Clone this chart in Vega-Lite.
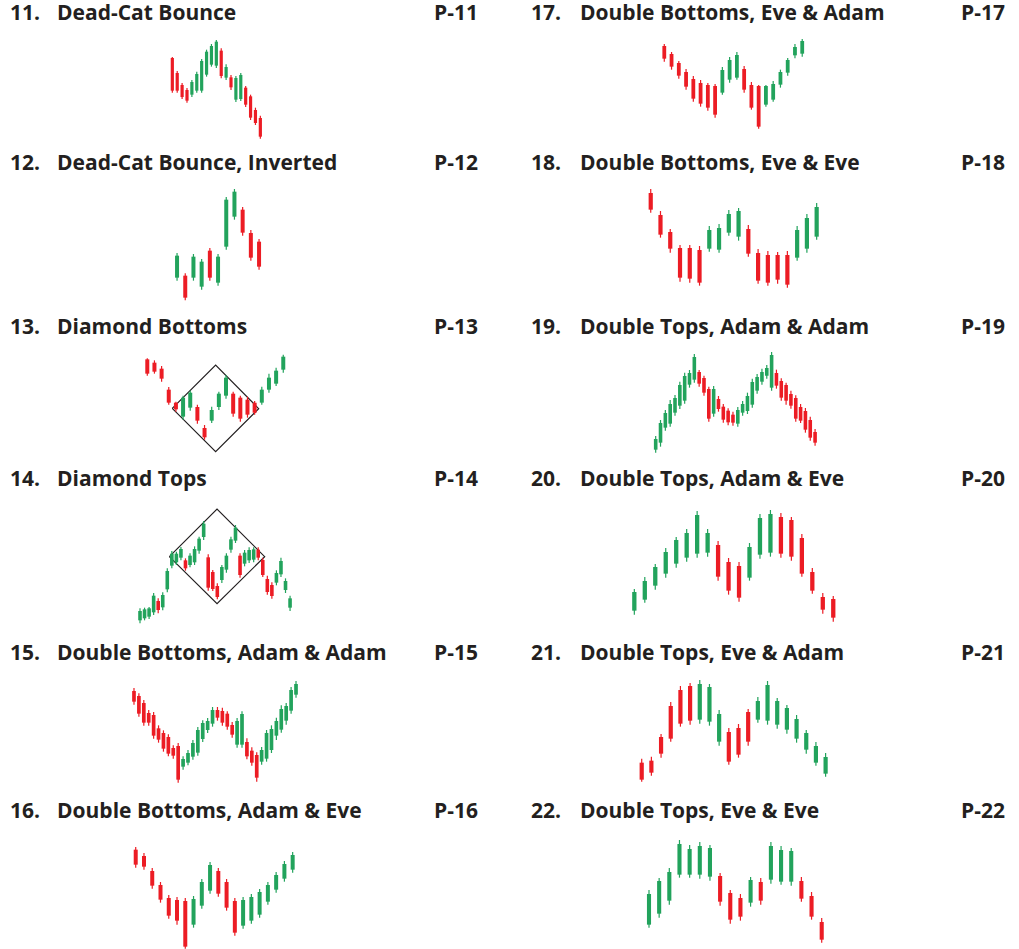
{
"$schema": "https://vega.github.io/schema/vega-lite/v6.json",
"padding": 0,
"background": "white",
"spacing": 0,
"config": {"view": {"stroke": null}, "scale": {"continuousPadding": 0}, "text": {"font": "Open Sans", "fontSize": 21, "fontWeight": 700, "color": "#231f20"}},
"datasets": {
"p11": [{"i":0,"open":276,"high":279,"low":172,"close":178},{"i":1,"open":231,"high":237,"low":172,"close":178},{"i":2,"open":195,"high":201,"low":153,"close":159},{"i":3,"open":180,"high":186,"low":142,"close":148},{"i":4,"open":166,"high":210,"low":159,"close":204},{"i":5,"open":178,"high":235,"low":172,"close":228},{"i":6,"open":178,"high":273,"low":172,"close":267},{"i":7,"open":226,"high":301,"low":220,"close":295},{"i":8,"open":256,"high":318,"low":250,"close":312},{"i":9,"open":253,"high":330,"low":246,"close":325},{"i":10,"open":298,"high":305,"low":215,"close":222},{"i":11,"open":217,"high":257,"low":210,"close":249},{"i":12,"open":218,"high":225,"low":180,"close":188},{"i":13,"open":151,"high":222,"low":144,"close":216},{"i":14,"open":153,"high":231,"low":147,"close":225},{"i":15,"open":187,"high":192,"low":129,"close":136},{"i":16,"open":161,"high":166,"low":90,"close":97},{"i":17,"open":120,"high":127,"low":75,"close":81},{"i":18,"open":96,"high":103,"low":34,"close":40}],
"p12": [{"i":0,"open":109,"high":183,"low":100,"close":175},{"i":1,"open":115,"high":122,"low":41,"close":49},{"i":2,"open":109,"high":180,"low":100,"close":172},{"i":3,"open":82,"high":165,"low":73,"close":157},{"i":4,"open":190,"high":198,"low":100,"close":109},{"i":5,"open":94,"high":180,"low":85,"close":172},{"i":6,"open":202,"high":351,"low":193,"close":343},{"i":7,"open":292,"high":375,"low":283,"close":367},{"i":8,"open":313,"high":321,"low":235,"close":244},{"i":9,"open":243,"high":252,"low":160,"close":169},{"i":10,"open":217,"high":225,"low":133,"close":142}],
"p13": [{"i":0,"open":320,"high":323,"low":271,"close":277},{"i":1,"open":310,"high":317,"low":277,"close":283},{"i":2,"open":292,"high":300,"low":253,"close":262},{"i":3,"open":229,"high":237,"low":184,"close":190},{"i":4,"open":190,"high":193,"low":163,"close":170},{"i":5,"open":148,"high":211,"low":139,"close":205},{"i":6,"open":175,"high":226,"low":166,"close":220},{"i":7,"open":177,"high":184,"low":127,"close":136},{"i":8,"open":114,"high":123,"low":79,"close":86},{"i":9,"open":136,"high":178,"low":129,"close":168},{"i":10,"open":177,"high":223,"low":168,"close":217},{"i":11,"open":211,"high":273,"low":202,"close":265},{"i":12,"open":217,"high":223,"low":148,"close":157},{"i":13,"open":205,"high":211,"low":133,"close":142},{"i":14,"open":199,"high":208,"low":145,"close":154},{"i":15,"open":190,"high":195,"low":154,"close":160},{"i":16,"open":190,"high":238,"low":184,"close":229},{"i":17,"open":229,"high":277,"low":220,"close":265},{"i":18,"open":247,"high":295,"low":240,"close":286},{"i":19,"open":289,"high":334,"low":280,"close":328}],
"p14": [{"i":0,"open":59,"high":95,"low":50,"close":87},{"i":1,"open":65,"high":97,"low":59,"close":92},{"i":2,"open":70,"high":99,"low":63,"close":95},{"i":3,"open":83,"high":141,"low":75,"close":133},{"i":4,"open":117,"high":125,"low":80,"close":90},{"i":5,"open":98,"high":143,"low":89,"close":135},{"i":6,"open":152,"high":215,"low":143,"close":207},{"i":7,"open":223,"high":267,"low":215,"close":259},{"i":8,"open":233,"high":265,"low":225,"close":259},{"i":9,"open":247,"high":279,"low":239,"close":273},{"i":10,"open":239,"high":245,"low":208,"close":215},{"i":11,"open":225,"high":260,"low":218,"close":253},{"i":12,"open":233,"high":281,"low":225,"close":273},{"i":13,"open":268,"high":310,"low":259,"close":304},{"i":14,"open":309,"high":357,"low":300,"close":349},{"i":15,"open":248,"high":257,"low":148,"close":157},{"i":16,"open":204,"high":210,"low":147,"close":153},{"i":17,"open":162,"high":170,"low":122,"close":129},{"i":18,"open":180,"high":225,"low":171,"close":219},{"i":19,"open":211,"high":260,"low":202,"close":253},{"i":20,"open":271,"high":310,"low":262,"close":302},{"i":21,"open":298,"high":345,"low":291,"close":337},{"i":22,"open":253,"high":260,"low":187,"close":195},{"i":23,"open":229,"high":270,"low":221,"close":262},{"i":24,"open":239,"high":278,"low":231,"close":270},{"i":25,"open":241,"high":278,"low":233,"close":272},{"i":26,"open":271,"high":278,"low":239,"close":247},{"i":27,"open":240,"high":247,"low":189,"close":195},{"i":28,"open":183,"high":193,"low":136,"close":144},{"i":29,"open":165,"high":173,"low":124,"close":132},{"i":30,"open":172,"high":209,"low":164,"close":201},{"i":31,"open":197,"high":247,"low":189,"close":237},{"i":32,"open":150,"high":185,"low":141,"close":177},{"i":33,"open":97,"high":133,"low":87,"close":125}],
"p15": [{"i":0,"open":321,"high":330,"low":280,"close":289},{"i":1,"open":306,"high":314,"low":244,"close":253},{"i":2,"open":285,"high":294,"low":217,"close":226},{"i":3,"open":255,"high":264,"low":217,"close":226},{"i":4,"open":249,"high":258,"low":178,"close":187},{"i":5,"open":209,"high":218,"low":166,"close":175},{"i":6,"open":195,"high":203,"low":139,"close":148},{"i":7,"open":183,"high":191,"low":125,"close":133},{"i":8,"open":150,"high":158,"low":118,"close":127},{"i":9,"open":156,"high":165,"low":46,"close":55},{"i":10,"open":94,"high":125,"low":85,"close":117},{"i":11,"open":106,"high":144,"low":98,"close":135},{"i":12,"open":124,"high":174,"low":115,"close":165},{"i":13,"open":136,"high":213,"low":127,"close":204},{"i":14,"open":177,"high":233,"low":168,"close":225},{"i":15,"open":204,"high":240,"low":195,"close":231},{"i":16,"open":223,"high":273,"low":214,"close":264},{"i":17,"open":264,"high":273,"low":232,"close":241},{"i":18,"open":261,"high":271,"low":217,"close":226},{"i":19,"open":253,"high":260,"low":205,"close":214},{"i":20,"open":219,"high":228,"low":181,"close":190},{"i":21,"open":160,"high":240,"low":151,"close":231},{"i":22,"open":160,"high":260,"low":151,"close":252},{"i":23,"open":168,"high":179,"low":116,"close":125},{"i":24,"open":142,"high":152,"low":97,"close":106},{"i":25,"open":129,"high":137,"low":49,"close":61},{"i":26,"open":109,"high":153,"low":100,"close":144},{"i":27,"open":118,"high":204,"low":109,"close":195},{"i":28,"open":144,"high":218,"low":135,"close":207},{"i":29,"open":187,"high":241,"low":174,"close":231},{"i":30,"open":205,"high":278,"low":196,"close":267},{"i":31,"open":232,"high":285,"low":220,"close":276},{"i":32,"open":262,"high":333,"low":253,"close":324},{"i":33,"open":310,"high":351,"low":301,"close":342}],
"p16": [{"i":0,"open":298,"high":306,"low":244,"close":253},{"i":1,"open":279,"high":288,"low":238,"close":247},{"i":2,"open":234,"high":243,"low":181,"close":190},{"i":3,"open":192,"high":201,"low":139,"close":148},{"i":4,"open":153,"high":162,"low":91,"close":100},{"i":5,"open":147,"high":156,"low":73,"close":85},{"i":6,"open":144,"high":153,"low":1,"close":7},{"i":7,"open":73,"high":159,"low":64,"close":150},{"i":8,"open":130,"high":210,"low":121,"close":201},{"i":9,"open":175,"high":261,"low":166,"close":252},{"i":10,"open":234,"high":243,"low":157,"close":166},{"i":11,"open":201,"high":210,"low":115,"close":124},{"i":12,"open":144,"high":153,"low":40,"close":49},{"i":13,"open":70,"high":156,"low":61,"close":147},{"i":14,"open":85,"high":165,"low":76,"close":156},{"i":15,"open":103,"high":180,"low":94,"close":171},{"i":16,"open":142,"high":201,"low":133,"close":192},{"i":17,"open":178,"high":231,"low":169,"close":222},{"i":18,"open":211,"high":264,"low":202,"close":255},{"i":19,"open":238,"high":291,"low":229,"close":282}],
"p17": [{"i":0,"open":312,"high":318,"low":265,"close":274},{"i":1,"open":288,"high":294,"low":241,"close":250},{"i":2,"open":261,"high":267,"low":214,"close":223},{"i":3,"open":234,"high":243,"low":181,"close":190},{"i":4,"open":213,"high":222,"low":145,"close":154},{"i":5,"open":201,"high":210,"low":130,"close":139},{"i":6,"open":195,"high":201,"low":118,"close":127},{"i":7,"open":192,"high":198,"low":97,"close":106},{"i":8,"open":172,"high":249,"low":166,"close":240},{"i":9,"open":211,"high":279,"low":202,"close":270},{"i":10,"open":217,"high":294,"low":211,"close":285},{"i":11,"open":243,"high":252,"low":172,"close":181},{"i":12,"open":195,"high":204,"low":121,"close":127},{"i":13,"open":192,"high":195,"low":64,"close":70},{"i":14,"open":136,"high":195,"low":130,"close":192},{"i":15,"open":151,"high":207,"low":145,"close":198},{"i":16,"open":196,"high":241,"low":187,"close":234},{"i":17,"open":232,"high":276,"low":223,"close":270},{"i":18,"open":284,"high":318,"low":275,"close":309},{"i":19,"open":289,"high":333,"low":280,"close":327}],
"p18": [{"i":0,"open":363,"high":375,"low":304,"close":313},{"i":1,"open":297,"high":309,"low":229,"close":238},{"i":2,"open":246,"high":255,"low":184,"close":196},{"i":3,"open":198,"high":207,"low":97,"close":109},{"i":4,"open":198,"high":207,"low":94,"close":106},{"i":5,"open":192,"high":204,"low":85,"close":94},{"i":6,"open":196,"high":264,"low":187,"close":252},{"i":7,"open":193,"high":270,"low":184,"close":258},{"i":8,"open":244,"high":312,"low":235,"close":300},{"i":9,"open":232,"high":318,"low":220,"close":309},{"i":10,"open":255,"high":267,"low":172,"close":181},{"i":11,"open":183,"high":195,"low":91,"close":100},{"i":12,"open":177,"high":189,"low":85,"close":94},{"i":13,"open":177,"high":186,"low":91,"close":103},{"i":14,"open":177,"high":189,"low":79,"close":88},{"i":15,"open":169,"high":264,"low":160,"close":252},{"i":16,"open":196,"high":300,"low":184,"close":288},{"i":17,"open":232,"high":333,"low":223,"close":321}],
"p19": [{"i":0,"open":49,"high":90,"low":40,"close":81},{"i":1,"open":70,"high":138,"low":58,"close":129},{"i":2,"open":115,"high":168,"low":106,"close":159},{"i":3,"open":127,"high":198,"low":118,"close":186},{"i":4,"open":160,"high":213,"low":151,"close":204},{"i":5,"open":181,"high":253,"low":171,"close":243},{"i":6,"open":196,"high":280,"low":187,"close":270},{"i":7,"open":244,"high":288,"low":235,"close":279},{"i":8,"open":259,"high":336,"low":250,"close":327},{"i":9,"open":282,"high":288,"low":238,"close":247},{"i":10,"open":264,"high":271,"low":211,"close":220},{"i":11,"open":231,"high":238,"low":133,"close":142},{"i":12,"open":157,"high":240,"low":148,"close":231},{"i":13,"open":201,"high":210,"low":163,"close":171},{"i":14,"open":178,"high":186,"low":130,"close":139},{"i":15,"open":166,"high":173,"low":122,"close":131},{"i":16,"open":154,"high":163,"low":121,"close":130},{"i":17,"open":127,"high":177,"low":118,"close":168},{"i":18,"open":160,"high":195,"low":151,"close":186},{"i":19,"open":165,"high":220,"low":156,"close":210},{"i":20,"open":184,"high":262,"low":175,"close":252},{"i":21,"open":226,"high":276,"low":217,"close":267},{"i":22,"open":253,"high":292,"low":244,"close":282},{"i":23,"open":271,"high":303,"low":262,"close":294},{"i":24,"open":235,"high":342,"low":226,"close":333},{"i":25,"open":279,"high":289,"low":232,"close":241},{"i":26,"open":255,"high":263,"low":196,"close":205},{"i":27,"open":243,"high":250,"low":184,"close":196},{"i":28,"open":216,"high":226,"low":172,"close":181},{"i":29,"open":204,"high":212,"low":133,"close":142},{"i":30,"open":177,"high":186,"low":129,"close":136},{"i":31,"open":165,"high":174,"low":100,"close":109},{"i":32,"open":138,"high":148,"low":76,"close":85},{"i":33,"open":102,"high":111,"low":61,"close":70}],
"p20": [{"i":0,"open":88,"high":153,"low":76,"close":144},{"i":1,"open":121,"high":189,"low":112,"close":177},{"i":2,"open":163,"high":228,"low":151,"close":219},{"i":3,"open":199,"high":276,"low":187,"close":264},{"i":4,"open":229,"high":309,"low":217,"close":300},{"i":5,"open":247,"high":333,"low":235,"close":321},{"i":6,"open":259,"high":387,"low":247,"close":375},{"i":7,"open":262,"high":333,"low":250,"close":321},{"i":8,"open":285,"high":297,"low":178,"close":190},{"i":9,"open":234,"high":246,"low":136,"close":148},{"i":10,"open":222,"high":234,"low":115,"close":127},{"i":11,"open":187,"high":291,"low":178,"close":279},{"i":12,"open":256,"high":378,"low":244,"close":366},{"i":13,"open":262,"high":390,"low":250,"close":378},{"i":14,"open":369,"high":381,"low":247,"close":259},{"i":15,"open":360,"high":369,"low":238,"close":250},{"i":16,"open":306,"high":318,"low":190,"close":199},{"i":17,"open":204,"high":216,"low":139,"close":148},{"i":18,"open":129,"high":141,"low":79,"close":91},{"i":19,"open":123,"high":132,"low":55,"close":67}],
"p21": [{"i":0,"open":106,"high":118,"low":49,"close":55},{"i":1,"open":112,"high":124,"low":67,"close":76},{"i":2,"open":183,"high":192,"low":121,"close":133},{"i":3,"open":276,"high":288,"low":169,"close":178},{"i":4,"open":324,"high":336,"low":214,"close":223},{"i":5,"open":336,"high":345,"low":220,"close":232},{"i":6,"open":235,"high":354,"low":223,"close":342},{"i":7,"open":229,"high":342,"low":217,"close":333},{"i":8,"open":169,"high":264,"low":157,"close":252},{"i":9,"open":198,"high":210,"low":100,"close":109},{"i":10,"open":210,"high":222,"low":121,"close":130},{"i":11,"open":258,"high":267,"low":157,"close":169},{"i":12,"open":235,"high":303,"low":226,"close":291},{"i":13,"open":232,"high":351,"low":220,"close":339},{"i":14,"open":220,"high":300,"low":208,"close":291},{"i":15,"open":205,"high":279,"low":193,"close":270},{"i":16,"open":178,"high":249,"low":166,"close":237},{"i":17,"open":145,"high":204,"low":133,"close":195},{"i":18,"open":106,"high":168,"low":97,"close":156},{"i":19,"open":73,"high":135,"low":64,"close":123}],
"p22": [{"i":0,"open":73,"high":177,"low":64,"close":165},{"i":1,"open":106,"high":213,"low":94,"close":204},{"i":2,"open":145,"high":243,"low":133,"close":231},{"i":3,"open":223,"high":327,"low":214,"close":315},{"i":4,"open":223,"high":312,"low":214,"close":300},{"i":5,"open":223,"high":321,"low":211,"close":309},{"i":6,"open":217,"high":312,"low":205,"close":303},{"i":7,"open":219,"high":228,"low":130,"close":142},{"i":8,"open":168,"high":177,"low":76,"close":88},{"i":9,"open":153,"high":165,"low":85,"close":97},{"i":10,"open":139,"high":216,"low":127,"close":207},{"i":11,"open":201,"high":213,"low":133,"close":145},{"i":12,"open":208,"high":321,"low":196,"close":309},{"i":13,"open":202,"high":309,"low":193,"close":297},{"i":14,"open":202,"high":303,"low":190,"close":294},{"i":15,"open":204,"high":216,"low":142,"close":151},{"i":16,"open":159,"high":171,"low":88,"close":97},{"i":17,"open":81,"high":93,"low":19,"close":28}]
},
"vconcat": [
{"hconcat": [
{"width": 509, "height": 150, "data": {"name": "p11"}, "layer": [
  {"mark": {"type": "rule", "strokeWidth": 1.2}, "encoding": {"x": {"field": "i", "type": "quantitative", "scale": {"domain": [-35.24, 68.85], "nice": false, "zero": false, "padding": 0}, "axis": null}, "y": {"field": "low", "type": "quantitative", "scale": {"domain": [0, 450], "nice": false, "zero": false}, "axis": null}, "y2": {"field": "high"}, "color": {"condition": {"test": "datum.close > datum.open", "value": "#22a35c"}, "value": "#ec1c24"}}},
  {"mark": {"type": "bar", "size": 3.2}, "encoding": {"x": {"field": "i", "type": "quantitative"}, "y": {"field": "open", "type": "quantitative"}, "y2": {"field": "close"}, "color": {"condition": {"test": "datum.close > datum.open", "value": "#22a35c"}, "value": "#ec1c24"}}},
  {"data": {"values": [{"num": "11.", "name": "Dead-Cat Bounce", "page": "P-11"}]}, "mark": {"type": "text", "align": "left", "baseline": "middle"}, "encoding": {"x": {"datum": -33.19}, "y": {"datum": 408}, "text": {"field": "num"}}},
  {"data": {"values": [{"num": "11.", "name": "Dead-Cat Bounce", "page": "P-11"}]}, "mark": {"type": "text", "align": "left", "baseline": "middle"}, "encoding": {"x": {"datum": -23.58}, "y": {"datum": 408}, "text": {"field": "name"}}},
  {"data": {"values": [{"num": "11.", "name": "Dead-Cat Bounce", "page": "P-11"}]}, "mark": {"type": "text", "align": "right", "baseline": "middle"}, "encoding": {"x": {"datum": 62.52}, "y": {"datum": 408}, "text": {"field": "page"}}}
 ]},
{"width": 510, "height": 150, "data": {"name": "p17"}, "layer": [
  {"mark": {"type": "rule", "strokeWidth": 1.2}, "encoding": {"x": {"field": "i", "type": "quantitative", "scale": {"domain": [-21.39, 48.86], "nice": false, "zero": false, "padding": 0}, "axis": null}, "y": {"field": "low", "type": "quantitative", "scale": {"domain": [0, 450], "nice": false, "zero": false}, "axis": null}, "y2": {"field": "high"}, "color": {"condition": {"test": "datum.close > datum.open", "value": "#22a35c"}, "value": "#ec1c24"}}},
  {"mark": {"type": "bar", "size": 3.8}, "encoding": {"x": {"field": "i", "type": "quantitative"}, "y": {"field": "open", "type": "quantitative"}, "y2": {"field": "close"}, "color": {"condition": {"test": "datum.close > datum.open", "value": "#22a35c"}, "value": "#ec1c24"}}},
  {"data": {"values": [{"num": "17.", "name": "Double Bottoms, Eve & Adam", "page": "P-17"}]}, "mark": {"type": "text", "align": "left", "baseline": "middle"}, "encoding": {"x": {"datum": -18.36}, "y": {"datum": 408}, "text": {"field": "num"}}},
  {"data": {"values": [{"num": "17.", "name": "Double Bottoms, Eve & Adam", "page": "P-17"}]}, "mark": {"type": "text", "align": "left", "baseline": "middle"}, "encoding": {"x": {"datum": -11.61}, "y": {"datum": 408}, "text": {"field": "name"}}},
  {"data": {"values": [{"num": "17.", "name": "Double Bottoms, Eve & Adam", "page": "P-17"}]}, "mark": {"type": "text", "align": "right", "baseline": "middle"}, "encoding": {"x": {"datum": 46.93}, "y": {"datum": 408}, "text": {"field": "page"}}}
 ]}
], "spacing": 0, "bounds": "flush"},
{"hconcat": [
{"width": 509, "height": 164, "data": {"name": "p12"}, "layer": [
  {"mark": {"type": "rule", "strokeWidth": 1.2}, "encoding": {"x": {"field": "i", "type": "quantitative", "scale": {"domain": [-21.59, 40.48], "nice": false, "zero": false, "padding": 0}, "axis": null}, "y": {"field": "low", "type": "quantitative", "scale": {"domain": [0, 492], "nice": false, "zero": false}, "axis": null}, "y2": {"field": "high"}, "color": {"condition": {"test": "datum.close > datum.open", "value": "#22a35c"}, "value": "#ec1c24"}}},
  {"mark": {"type": "bar", "size": 4}, "encoding": {"x": {"field": "i", "type": "quantitative"}, "y": {"field": "open", "type": "quantitative"}, "y2": {"field": "close"}, "color": {"condition": {"test": "datum.close > datum.open", "value": "#22a35c"}, "value": "#ec1c24"}}},
  {"data": {"values": [{"num": "12.", "name": "Dead-Cat Bounce, Inverted", "page": "P-12"}]}, "mark": {"type": "text", "align": "left", "baseline": "middle"}, "encoding": {"x": {"datum": -20.37}, "y": {"datum": 450}, "text": {"field": "num"}}},
  {"data": {"values": [{"num": "12.", "name": "Dead-Cat Bounce, Inverted", "page": "P-12"}]}, "mark": {"type": "text", "align": "left", "baseline": "middle"}, "encoding": {"x": {"datum": -14.63}, "y": {"datum": 450}, "text": {"field": "name"}}},
  {"data": {"values": [{"num": "12.", "name": "Dead-Cat Bounce, Inverted", "page": "P-12"}]}, "mark": {"type": "text", "align": "right", "baseline": "middle"}, "encoding": {"x": {"datum": 36.71}, "y": {"datum": 450}, "text": {"field": "page"}}}
 ]},
{"width": 510, "height": 164, "data": {"name": "p18"}, "layer": [
  {"mark": {"type": "rule", "strokeWidth": 1.2}, "encoding": {"x": {"field": "i", "type": "quantitative", "scale": {"domain": [-14.52, 37.73], "nice": false, "zero": false, "padding": 0}, "axis": null}, "y": {"field": "low", "type": "quantitative", "scale": {"domain": [0, 492], "nice": false, "zero": false}, "axis": null}, "y2": {"field": "high"}, "color": {"condition": {"test": "datum.close > datum.open", "value": "#22a35c"}, "value": "#ec1c24"}}},
  {"mark": {"type": "bar", "size": 4.2}, "encoding": {"x": {"field": "i", "type": "quantitative"}, "y": {"field": "open", "type": "quantitative"}, "y2": {"field": "close"}, "color": {"condition": {"test": "datum.close > datum.open", "value": "#22a35c"}, "value": "#ec1c24"}}},
  {"data": {"values": [{"num": "18.", "name": "Double Bottoms, Eve & Eve", "page": "P-18"}]}, "mark": {"type": "text", "align": "left", "baseline": "middle"}, "encoding": {"x": {"datum": -12.26}, "y": {"datum": 450}, "text": {"field": "num"}}},
  {"data": {"values": [{"num": "18.", "name": "Double Bottoms, Eve & Eve", "page": "P-18"}]}, "mark": {"type": "text", "align": "left", "baseline": "middle"}, "encoding": {"x": {"datum": -7.24}, "y": {"datum": 450}, "text": {"field": "name"}}},
  {"data": {"values": [{"num": "18.", "name": "Double Bottoms, Eve & Eve", "page": "P-18"}]}, "mark": {"type": "text", "align": "right", "baseline": "middle"}, "encoding": {"x": {"datum": 36.30}, "y": {"datum": 450}, "text": {"field": "page"}}}
 ]}
], "spacing": 0, "bounds": "flush"},
{"hconcat": [
{"width": 509, "height": 152, "data": {"name": "p13"}, "layer": [
  {"data": {"values": [{"v": 0, "i": 3.49, "p": 173}, {"v": 1, "i": 9.55, "p": 303}, {"v": 2, "i": 15.56, "p": 172}, {"v": 3, "i": 9.55, "p": 43}, {"v": 4, "i": 3.49, "p": 173}]},
   "mark": {"type": "line", "color": "#231f20", "strokeWidth": 1.2}, "encoding": {"x": {"field": "i", "type": "quantitative", "scale": {"domain": [-20.58, 50.54], "nice": false, "zero": false, "padding": 0}, "axis": null}, "y": {"field": "p", "type": "quantitative", "scale": {"domain": [0, 456], "nice": false, "zero": false}, "axis": null}, "order": {"field": "v", "type": "quantitative"}}},
  {"mark": {"type": "rule", "strokeWidth": 1.2}, "encoding": {"x": {"field": "i", "type": "quantitative"}, "y": {"field": "low", "type": "quantitative"}, "y2": {"field": "high"}, "color": {"condition": {"test": "datum.close > datum.open", "value": "#22a35c"}, "value": "#ec1c24"}}},
  {"mark": {"type": "bar", "size": 4}, "encoding": {"x": {"field": "i", "type": "quantitative"}, "y": {"field": "open", "type": "quantitative"}, "y2": {"field": "close"}, "color": {"condition": {"test": "datum.close > datum.open", "value": "#22a35c"}, "value": "#ec1c24"}}},
  {"data": {"values": [{"num": "13.", "name": "Diamond Bottoms", "page": "P-13"}]}, "mark": {"type": "text", "align": "left", "baseline": "middle"}, "encoding": {"x": {"datum": -19.18}, "y": {"datum": 414}, "text": {"field": "num"}}},
  {"data": {"values": [{"num": "13.", "name": "Diamond Bottoms", "page": "P-13"}]}, "mark": {"type": "text", "align": "left", "baseline": "middle"}, "encoding": {"x": {"datum": -12.62}, "y": {"datum": 414}, "text": {"field": "name"}}},
  {"data": {"values": [{"num": "13.", "name": "Diamond Bottoms", "page": "P-13"}]}, "mark": {"type": "text", "align": "right", "baseline": "middle"}, "encoding": {"x": {"datum": 46.21}, "y": {"datum": 414}, "text": {"field": "page"}}}
 ]},
{"width": 510, "height": 152, "data": {"name": "p19"}, "layer": [
  {"mark": {"type": "rule", "strokeWidth": 1.2}, "encoding": {"x": {"field": "i", "type": "quantitative", "scale": {"domain": [-30.37, 75.22], "nice": false, "zero": false, "padding": 0}, "axis": null}, "y": {"field": "low", "type": "quantitative", "scale": {"domain": [0, 456], "nice": false, "zero": false}, "axis": null}, "y2": {"field": "high"}, "color": {"condition": {"test": "datum.close > datum.open", "value": "#22a35c"}, "value": "#ec1c24"}}},
  {"mark": {"type": "bar", "size": 3.6}, "encoding": {"x": {"field": "i", "type": "quantitative"}, "y": {"field": "open", "type": "quantitative"}, "y2": {"field": "close"}, "color": {"condition": {"test": "datum.close > datum.open", "value": "#22a35c"}, "value": "#ec1c24"}}},
  {"data": {"values": [{"num": "19.", "name": "Double Tops, Adam & Adam", "page": "P-19"}]}, "mark": {"type": "text", "align": "left", "baseline": "middle"}, "encoding": {"x": {"datum": -25.82}, "y": {"datum": 414}, "text": {"field": "num"}}},
  {"data": {"values": [{"num": "19.", "name": "Double Tops, Adam & Adam", "page": "P-19"}]}, "mark": {"type": "text", "align": "left", "baseline": "middle"}, "encoding": {"x": {"datum": -15.67}, "y": {"datum": 414}, "text": {"field": "name"}}},
  {"data": {"values": [{"num": "19.", "name": "Double Tops, Adam & Adam", "page": "P-19"}]}, "mark": {"type": "text", "align": "right", "baseline": "middle"}, "encoding": {"x": {"datum": 72.32}, "y": {"datum": 414}, "text": {"field": "page"}}}
 ]}
], "spacing": 0, "bounds": "flush"},
{"hconcat": [
{"width": 509, "height": 174, "data": {"name": "p14"}, "layer": [
  {"data": {"values": [{"v": 0, "i": 6.45, "p": 250}, {"v": 1, "i": 16.94, "p": 393}, {"v": 2, "i": 27.42, "p": 250}, {"v": 3, "i": 16.94, "p": 109}, {"v": 4, "i": 6.45, "p": 250}]},
   "mark": {"type": "line", "color": "#231f20", "strokeWidth": 1.2}, "encoding": {"x": {"field": "i", "type": "quantitative", "scale": {"domain": [-30.79, 81.15], "nice": false, "zero": false, "padding": 0}, "axis": null}, "y": {"field": "p", "type": "quantitative", "scale": {"domain": [0, 522], "nice": false, "zero": false}, "axis": null}, "order": {"field": "v", "type": "quantitative"}}},
  {"mark": {"type": "rule", "strokeWidth": 1.2}, "encoding": {"x": {"field": "i", "type": "quantitative"}, "y": {"field": "low", "type": "quantitative"}, "y2": {"field": "high"}, "color": {"condition": {"test": "datum.close > datum.open", "value": "#22a35c"}, "value": "#ec1c24"}}},
  {"mark": {"type": "bar", "size": 3.6}, "encoding": {"x": {"field": "i", "type": "quantitative"}, "y": {"field": "open", "type": "quantitative"}, "y2": {"field": "close"}, "color": {"condition": {"test": "datum.close > datum.open", "value": "#22a35c"}, "value": "#ec1c24"}}},
  {"data": {"values": [{"num": "14.", "name": "Diamond Tops", "page": "P-14"}]}, "mark": {"type": "text", "align": "left", "baseline": "middle"}, "encoding": {"x": {"datum": -28.59}, "y": {"datum": 480}, "text": {"field": "num"}}},
  {"data": {"values": [{"num": "14.", "name": "Diamond Tops", "page": "P-14"}]}, "mark": {"type": "text", "align": "left", "baseline": "middle"}, "encoding": {"x": {"datum": -18.25}, "y": {"datum": 480}, "text": {"field": "name"}}},
  {"data": {"values": [{"num": "14.", "name": "Diamond Tops", "page": "P-14"}]}, "mark": {"type": "text", "align": "right", "baseline": "middle"}, "encoding": {"x": {"datum": 74.33}, "y": {"datum": 480}, "text": {"field": "page"}}}
 ]},
{"width": 510, "height": 174, "data": {"name": "p20"}, "layer": [
  {"mark": {"type": "rule", "strokeWidth": 1.2}, "encoding": {"x": {"field": "i", "type": "quantitative", "scale": {"domain": [-11.97, 36.74], "nice": false, "zero": false, "padding": 0}, "axis": null}, "y": {"field": "low", "type": "quantitative", "scale": {"domain": [0, 522], "nice": false, "zero": false}, "axis": null}, "y2": {"field": "high"}, "color": {"condition": {"test": "datum.close > datum.open", "value": "#22a35c"}, "value": "#ec1c24"}}},
  {"mark": {"type": "bar", "size": 4.3}, "encoding": {"x": {"field": "i", "type": "quantitative"}, "y": {"field": "open", "type": "quantitative"}, "y2": {"field": "close"}, "color": {"condition": {"test": "datum.close > datum.open", "value": "#22a35c"}, "value": "#ec1c24"}}},
  {"data": {"values": [{"num": "20.", "name": "Double Tops, Adam & Eve", "page": "P-20"}]}, "mark": {"type": "text", "align": "left", "baseline": "middle"}, "encoding": {"x": {"datum": -9.87}, "y": {"datum": 480}, "text": {"field": "num"}}},
  {"data": {"values": [{"num": "20.", "name": "Double Tops, Adam & Eve", "page": "P-20"}]}, "mark": {"type": "text", "align": "left", "baseline": "middle"}, "encoding": {"x": {"datum": -5.19}, "y": {"datum": 480}, "text": {"field": "name"}}},
  {"data": {"values": [{"num": "20.", "name": "Double Tops, Adam & Eve", "page": "P-20"}]}, "mark": {"type": "text", "align": "right", "baseline": "middle"}, "encoding": {"x": {"datum": 35.41}, "y": {"datum": 480}, "text": {"field": "page"}}}
 ]}
], "spacing": 0, "bounds": "flush"},
{"hconcat": [
{"width": 509, "height": 158, "data": {"name": "p15"}, "layer": [
  {"mark": {"type": "rule", "strokeWidth": 1.2}, "encoding": {"x": {"field": "i", "type": "quantitative", "scale": {"domain": [-27.29, 76.38], "nice": false, "zero": false, "padding": 0}, "axis": null}, "y": {"field": "low", "type": "quantitative", "scale": {"domain": [0, 474], "nice": false, "zero": false}, "axis": null}, "y2": {"field": "high"}, "color": {"condition": {"test": "datum.close > datum.open", "value": "#22a35c"}, "value": "#ec1c24"}}},
  {"mark": {"type": "bar", "size": 3.7}, "encoding": {"x": {"field": "i", "type": "quantitative"}, "y": {"field": "open", "type": "quantitative"}, "y2": {"field": "close"}, "color": {"condition": {"test": "datum.close > datum.open", "value": "#22a35c"}, "value": "#ec1c24"}}},
  {"data": {"values": [{"num": "15.", "name": "Double Bottoms, Adam & Adam", "page": "P-15"}]}, "mark": {"type": "text", "align": "left", "baseline": "middle"}, "encoding": {"x": {"datum": -25.25}, "y": {"datum": 432}, "text": {"field": "num"}}},
  {"data": {"values": [{"num": "15.", "name": "Double Bottoms, Adam & Adam", "page": "P-15"}]}, "mark": {"type": "text", "align": "left", "baseline": "middle"}, "encoding": {"x": {"datum": -15.68}, "y": {"datum": 432}, "text": {"field": "name"}}},
  {"data": {"values": [{"num": "15.", "name": "Double Bottoms, Adam & Adam", "page": "P-15"}]}, "mark": {"type": "text", "align": "right", "baseline": "middle"}, "encoding": {"x": {"datum": 70.06}, "y": {"datum": 432}, "text": {"field": "page"}}}
 ]},
{"width": 510, "height": 158, "data": {"name": "p21"}, "layer": [
  {"mark": {"type": "rule", "strokeWidth": 1.2}, "encoding": {"x": {"field": "i", "type": "quantitative", "scale": {"domain": [-13.71, 38.98], "nice": false, "zero": false, "padding": 0}, "axis": null}, "y": {"field": "low", "type": "quantitative", "scale": {"domain": [0, 474], "nice": false, "zero": false}, "axis": null}, "y2": {"field": "high"}, "color": {"condition": {"test": "datum.close > datum.open", "value": "#22a35c"}, "value": "#ec1c24"}}},
  {"mark": {"type": "bar", "size": 4.2}, "encoding": {"x": {"field": "i", "type": "quantitative"}, "y": {"field": "open", "type": "quantitative"}, "y2": {"field": "close"}, "color": {"condition": {"test": "datum.close > datum.open", "value": "#22a35c"}, "value": "#ec1c24"}}},
  {"data": {"values": [{"num": "21.", "name": "Double Tops, Eve & Adam", "page": "P-21"}]}, "mark": {"type": "text", "align": "left", "baseline": "middle"}, "encoding": {"x": {"datum": -11.44}, "y": {"datum": 432}, "text": {"field": "num"}}},
  {"data": {"values": [{"num": "21.", "name": "Double Tops, Eve & Adam", "page": "P-21"}]}, "mark": {"type": "text", "align": "left", "baseline": "middle"}, "encoding": {"x": {"datum": -6.37}, "y": {"datum": 432}, "text": {"field": "name"}}},
  {"data": {"values": [{"num": "21.", "name": "Double Tops, Eve & Adam", "page": "P-21"}]}, "mark": {"type": "text", "align": "right", "baseline": "middle"}, "encoding": {"x": {"datum": 37.53}, "y": {"datum": 432}, "text": {"field": "page"}}}
 ]}
], "spacing": 0, "bounds": "flush"},
{"hconcat": [
{"width": 509, "height": 151, "data": {"name": "p16"}, "layer": [
  {"mark": {"type": "rule", "strokeWidth": 1.2}, "encoding": {"x": {"field": "i", "type": "quantitative", "scale": {"domain": [-16.43, 45.19], "nice": false, "zero": false, "padding": 0}, "axis": null}, "y": {"field": "low", "type": "quantitative", "scale": {"domain": [0, 453], "nice": false, "zero": false}, "axis": null}, "y2": {"field": "high"}, "color": {"condition": {"test": "datum.close > datum.open", "value": "#22a35c"}, "value": "#ec1c24"}}},
  {"mark": {"type": "bar", "size": 4}, "encoding": {"x": {"field": "i", "type": "quantitative"}, "y": {"field": "open", "type": "quantitative"}, "y2": {"field": "close"}, "color": {"condition": {"test": "datum.close > datum.open", "value": "#22a35c"}, "value": "#ec1c24"}}},
  {"data": {"values": [{"num": "16.", "name": "Double Bottoms, Adam & Eve", "page": "P-16"}]}, "mark": {"type": "text", "align": "left", "baseline": "middle"}, "encoding": {"x": {"datum": -15.22}, "y": {"datum": 411}, "text": {"field": "num"}}},
  {"data": {"values": [{"num": "16.", "name": "Double Bottoms, Adam & Eve", "page": "P-16"}]}, "mark": {"type": "text", "align": "left", "baseline": "middle"}, "encoding": {"x": {"datum": -9.53}, "y": {"datum": 411}, "text": {"field": "name"}}},
  {"data": {"values": [{"num": "16.", "name": "Double Bottoms, Adam & Eve", "page": "P-16"}]}, "mark": {"type": "text", "align": "right", "baseline": "middle"}, "encoding": {"x": {"datum": 41.44}, "y": {"datum": 411}, "text": {"field": "page"}}}
 ]},
{"width": 510, "height": 151, "data": {"name": "p22"}, "layer": [
  {"mark": {"type": "rule", "strokeWidth": 1.2}, "encoding": {"x": {"field": "i", "type": "quantitative", "scale": {"domain": [-13.78, 36.42], "nice": false, "zero": false, "padding": 0}, "axis": null}, "y": {"field": "low", "type": "quantitative", "scale": {"domain": [0, 453], "nice": false, "zero": false}, "axis": null}, "y2": {"field": "high"}, "color": {"condition": {"test": "datum.close > datum.open", "value": "#22a35c"}, "value": "#ec1c24"}}},
  {"mark": {"type": "bar", "size": 4.1}, "encoding": {"x": {"field": "i", "type": "quantitative"}, "y": {"field": "open", "type": "quantitative"}, "y2": {"field": "close"}, "color": {"condition": {"test": "datum.close > datum.open", "value": "#22a35c"}, "value": "#ec1c24"}}},
  {"data": {"values": [{"num": "22.", "name": "Double Tops, Eve & Eve", "page": "P-22"}]}, "mark": {"type": "text", "align": "left", "baseline": "middle"}, "encoding": {"x": {"datum": -11.61}, "y": {"datum": 411}, "text": {"field": "num"}}},
  {"data": {"values": [{"num": "22.", "name": "Double Tops, Eve & Eve", "page": "P-22"}]}, "mark": {"type": "text", "align": "left", "baseline": "middle"}, "encoding": {"x": {"datum": -6.79}, "y": {"datum": 411}, "text": {"field": "name"}}},
  {"data": {"values": [{"num": "22.", "name": "Double Tops, Eve & Eve", "page": "P-22"}]}, "mark": {"type": "text", "align": "right", "baseline": "middle"}, "encoding": {"x": {"datum": 35.04}, "y": {"datum": 411}, "text": {"field": "page"}}}
 ]}
], "spacing": 0, "bounds": "flush"}
]
}
